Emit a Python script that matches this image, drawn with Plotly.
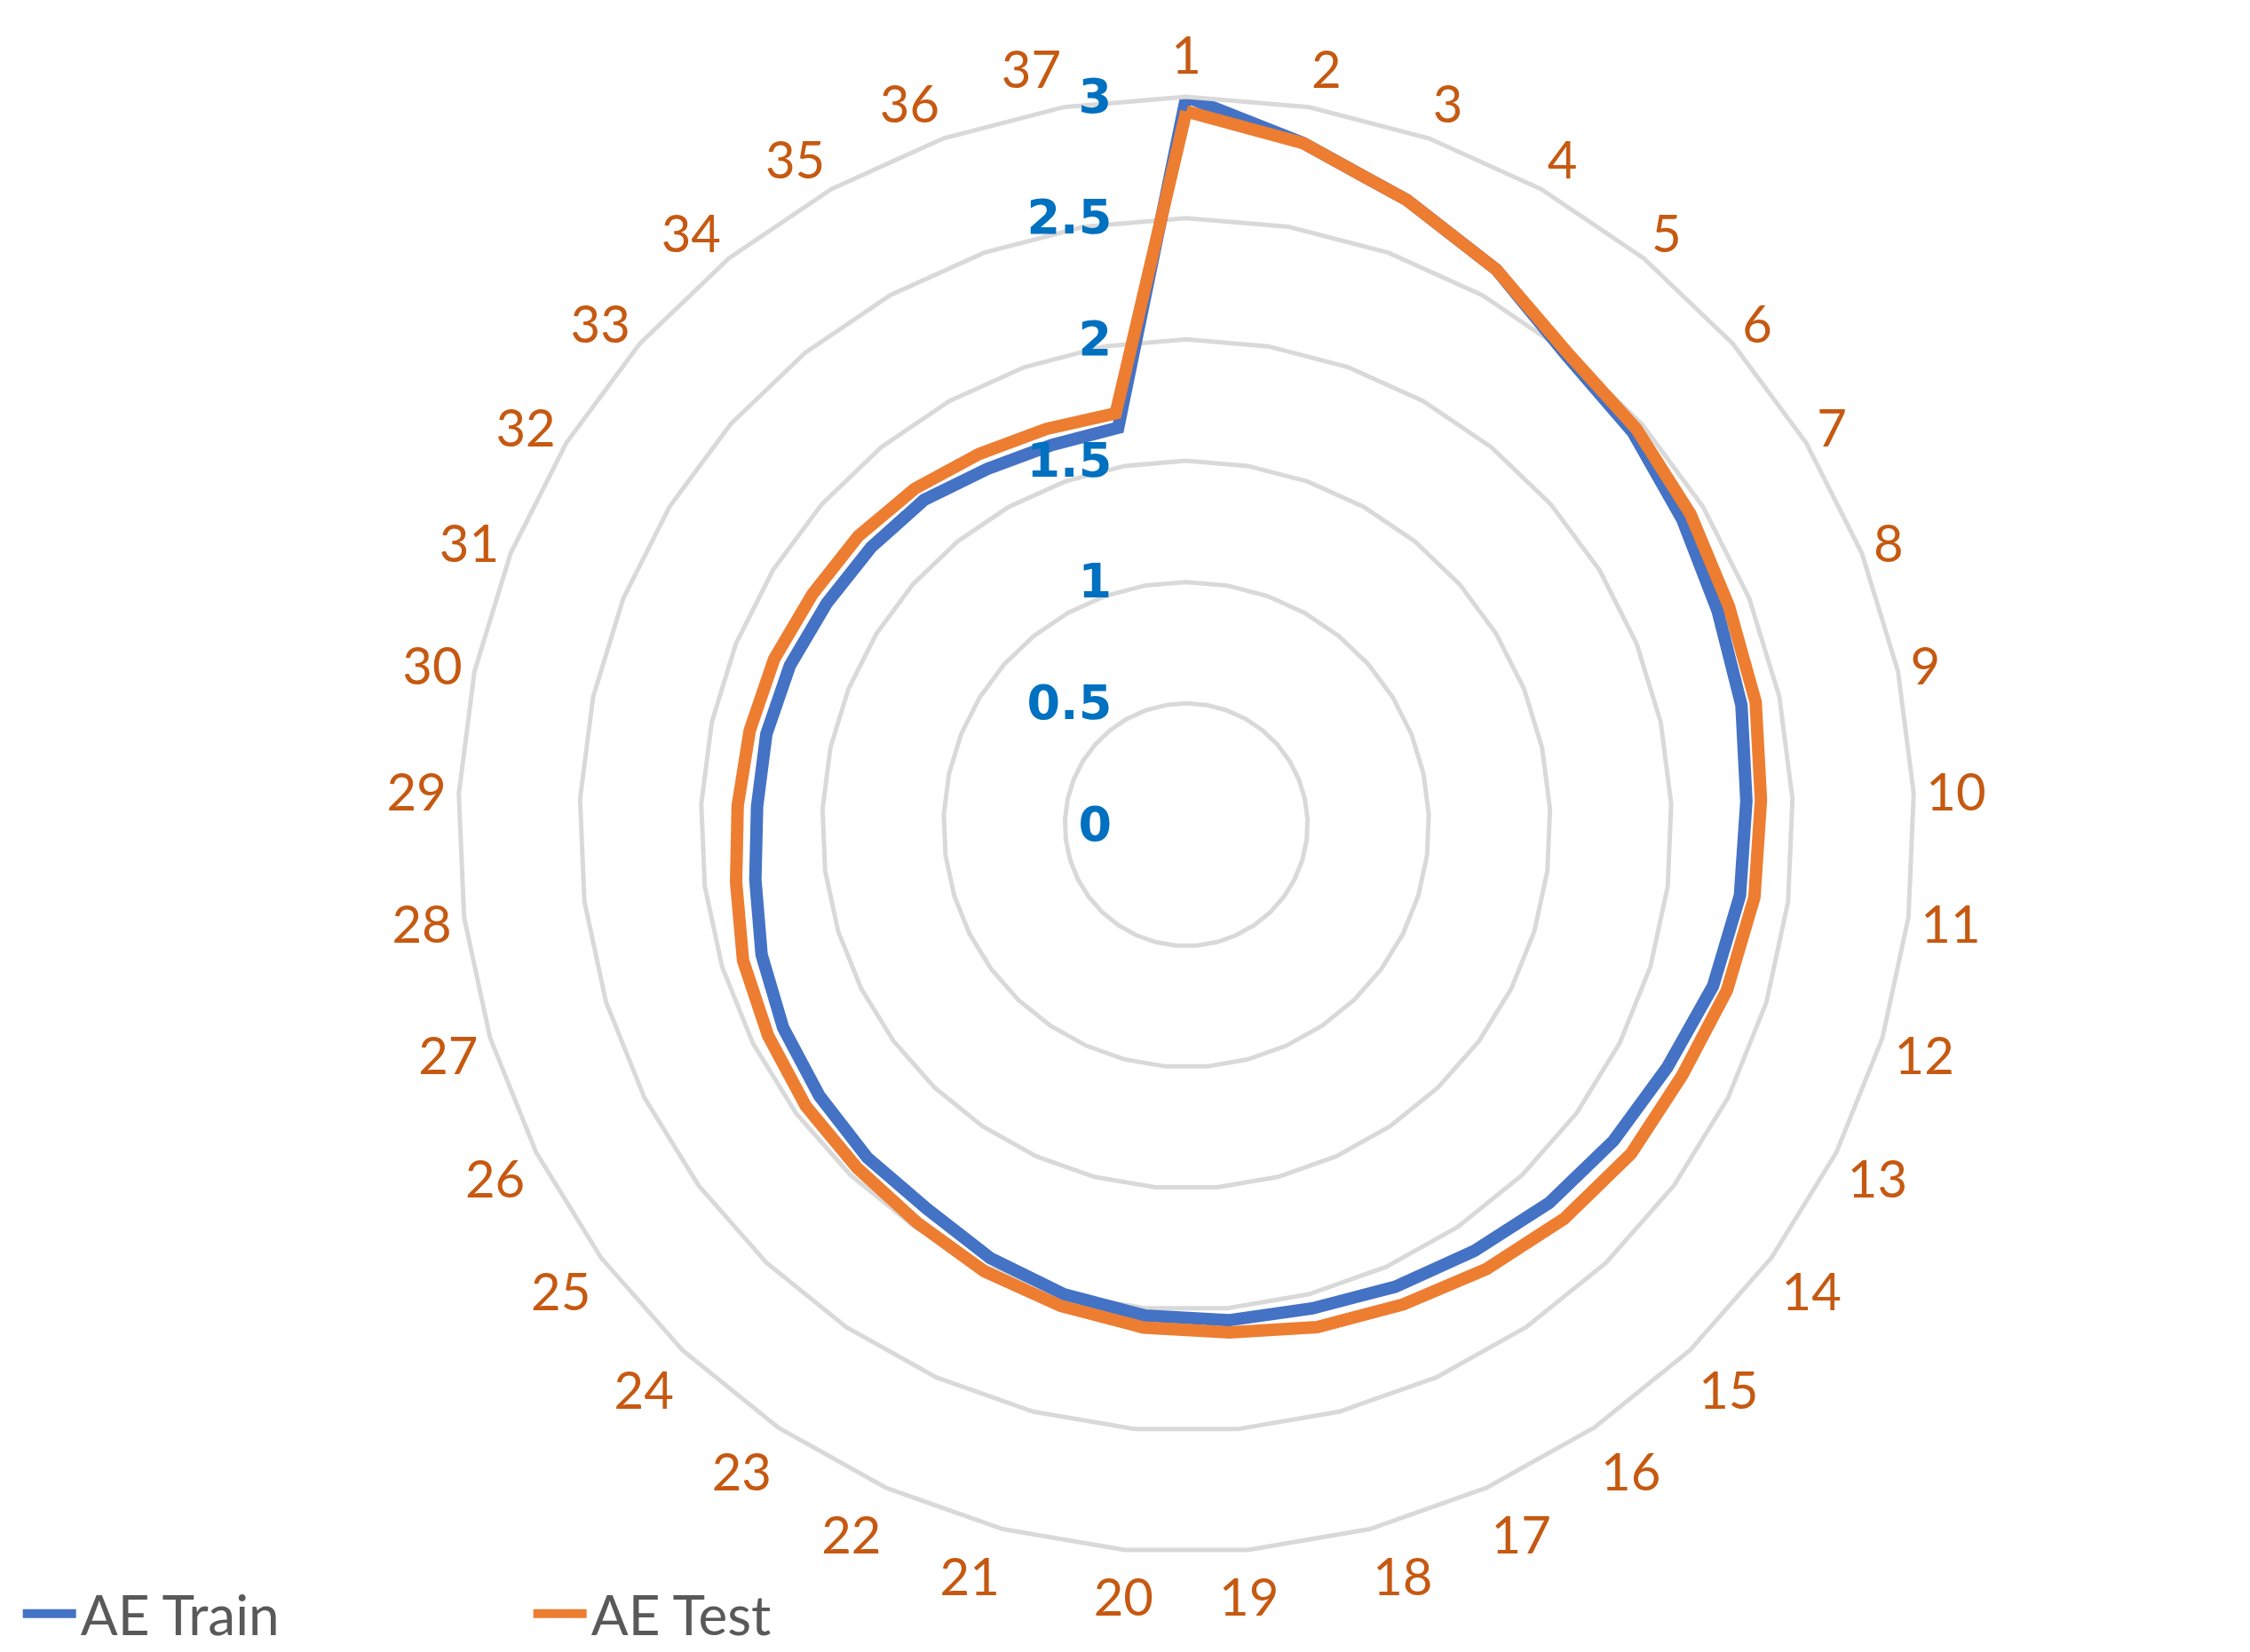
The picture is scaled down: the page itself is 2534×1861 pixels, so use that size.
import plotly.graph_objects as go

# Catégories (1..37) et valeurs des deux séries
categories = [str(i) for i in range(1, 38)]
ae_train = [3.00, 2.85, 2.73, 2.62, 2.49, 2.45, 2.40, 2.36, 2.34, 2.31,
            2.30, 2.27, 2.22, 2.19, 2.16, 2.12, 2.09, 2.06, 2.05, 2.03,
            2.00, 1.96, 1.91, 1.90, 1.88, 1.86, 1.83, 1.79, 1.77, 1.77,
            1.76, 1.74, 1.73, 1.72, 1.68, 1.66, 1.66]
ae_test = [2.94, 2.85, 2.73, 2.62, 2.50, 2.47, 2.44, 2.41, 2.40, 2.37,
           2.36, 2.33, 2.29, 2.28, 2.25, 2.21, 2.17, 2.14, 2.10, 2.08,
           2.05, 2.02, 1.98, 1.96, 1.95, 1.93, 1.91, 1.87, 1.85, 1.84,
           1.83, 1.81, 1.80, 1.78, 1.75, 1.73, 1.72]
radial_ticks = [0, 0.5, 1, 1.5, 2, 2.5, 3]

W, H = 2534, 1861
cx, cy, R = 1328, 921, 820  # centre et rayon du radar en pixels

fig = go.Figure()
# on referme la ligne comme dans Excel
fig.add_trace(go.Scatterpolar(r=ae_train + ae_train[:1], theta=categories + categories[:1],
                              mode='lines', name='AE Train',
                              line=dict(color='#4472C4', width=14)))
fig.add_trace(go.Scatterpolar(r=ae_test + ae_test[:1], theta=categories + categories[:1],
                              mode='lines', name='AE Test',
                              line=dict(color='#ED7D31', width=14)))

# espaces insécables pour décaler les étiquettes à gauche de l'axe
pad = '\u00a0' * 4

fig.update_layout(
    width=W, height=H,
    margin=dict(l=0, r=0, t=0, b=0),
    paper_bgcolor='white',
    polar=dict(
        domain=dict(x=[(cx - R) / W, (cx + R) / W],
                    y=[(H - cy - R) / H, (H - cy + R) / H]),
        bgcolor='white',
        gridshape='linear',
        angularaxis=dict(rotation=90, direction='clockwise',
                         categoryorder='array', categoryarray=categories,
                         showgrid=False, ticks='',
                         showline=True, linecolor='#D9D9D9', linewidth=5,
                         tickfont=dict(family='Lato', size=58, color='#C65911')),
        radialaxis=dict(range=[0, 3], tickvals=radial_ticks,
                        ticktext=[f'{v:g}{pad}' for v in radial_ticks],
                        angle=90, side='counterclockwise', tickangle=90,
                        showline=False, ticks='',
                        gridcolor='#D9D9D9', gridwidth=5,
                        tickfont=dict(family='DejaVu Sans', size=54,
                                      color='#0070C0', weight='bold')),
    ),
    legend=dict(orientation='h', x=0.005, y=51 / H, xanchor='left', yanchor='middle',
                bgcolor='rgba(0,0,0,0)',
                font=dict(family='Lato', size=62, color='#595959'),
                entrywidth=500, entrywidthmode='pixels', itemwidth=60),
    showlegend=True,
)

fig.write_html("out.html")
